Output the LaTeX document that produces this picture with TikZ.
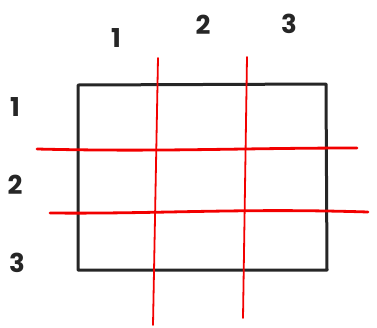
\documentclass[tikz,border=0pt]{standalone}
\usepackage{fontspec}
\setmainfont{Poppins}
\begin{document}
\begin{tikzpicture}[x=1pt,y=-1pt,
  blk/.style={draw=black!85,line width=3pt,line join=round,line cap=round},
  redv/.style={draw=red!95!black,line width=1.8pt,line cap=round},
  redh/.style={draw=red!95!black,line width=2.8pt,line cap=round},
  lbl/.style={font=\fontsize{26}{26}\selectfont\bfseries,text=black!85,inner sep=0pt}]
\useasboundingbox (0,0) rectangle (377,327);
% frame
\coordinate (tl) at (78,85);
\coordinate (tr) at (326,84);
\coordinate (br) at (327,270);
\coordinate (bl) at (78,270);
\draw[blk] (tl) -- (tr) -- (br) -- (bl) -- cycle;
% red grid
\coordinate (v1t) at (158,58); \coordinate (v1b) at (153,325);
\coordinate (v2t) at (247,57); \coordinate (v2b) at (243,318);
\coordinate (h1l) at (37,149); \coordinate (h1r) at (357,148);
\coordinate (h2l) at (50,213); \coordinate (h2r) at (368,212);
\draw[redv] (v1t) -- (v1b);
\draw[redv] (v2t) -- (v2b);
\draw[redh] (h1l) .. controls (160,152) and (240,148) .. (h1r);
\draw[redh] (h2l) .. controls (160,214) and (240,208) .. (h2r);
% labels
\node[lbl] (c1) at (116,38) {1};
\node[lbl] (c2) at (203,25) {2};
\node[lbl] (c3) at (289,24) {3};
\node[lbl] (r1) at (15,107) {1};
\node[lbl] (r2) at (15,185) {2};
\node[lbl] (r3) at (17,263) {3};
\end{tikzpicture}
\end{document}
